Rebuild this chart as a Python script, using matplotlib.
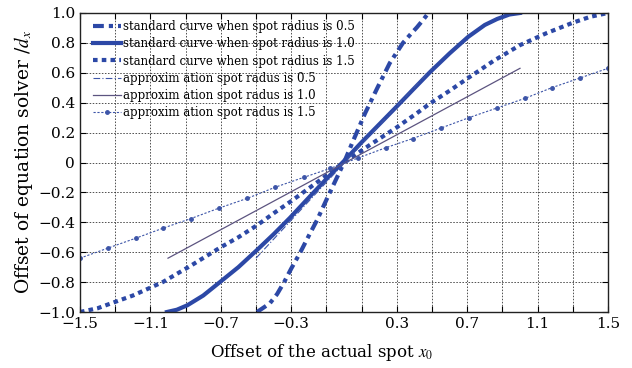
import matplotlib
matplotlib.use("Agg")
import matplotlib.pyplot as plt

# ---- data ----
std_05_x = [-0.494, -0.45, -0.42, -0.38, -0.34, -0.30, -0.25, -0.20, -0.153, -0.10, -0.04, 0.0,
            0.05, 0.12, 0.19, 0.26, 0.335, 0.38, 0.415, 0.45, 0.48]
std_05_y = [-1.0, -0.965, -0.94, -0.88, -0.80, -0.71, -0.605, -0.49, -0.385, -0.25, -0.10, 0.0,
            0.14, 0.33, 0.50, 0.665, 0.80, 0.86, 0.905, 0.955, 1.0]

std_10_x = [-1.006, -0.95, -0.89, -0.8, -0.705, -0.6, -0.494, -0.4, -0.307, -0.2, -0.1, 0.0,
            0.1, 0.2, 0.3, 0.39, 0.489, 0.6, 0.705, 0.8, 0.87, 0.94, 1.0]
std_10_y = [-1.0, -0.985, -0.955, -0.89, -0.80, -0.70, -0.585, -0.48, -0.37, -0.235, -0.11, 0.01,
            0.135, 0.255, 0.375, 0.485, 0.605, 0.73, 0.84, 0.92, 0.96, 0.99, 1.0]

std_15_x = [-1.5, -1.4, -1.33, -1.2, -1.03, -0.87, -0.705, -0.6, -0.494, -0.4, -0.29, -0.15, 0.0,
            0.15, 0.30, 0.42, 0.489, 0.6, 0.705, 0.85, 1.0, 1.15, 1.3, 1.4, 1.5]
std_15_y = [-1.0, -0.975, -0.945, -0.89, -0.80, -0.69, -0.57, -0.50, -0.42, -0.34, -0.25, -0.13, 0.0,
            0.12, 0.235, 0.335, 0.395, 0.48, 0.565, 0.68, 0.785, 0.865, 0.935, 0.975, 1.0]

apx_05_x = [-0.5, 0.5]
apx_05_y = [-0.64, 0.63]
apx_10_x = [-1.0, 1.0]
apx_10_y = [-0.64, 0.63]
apx_15_x = [-1.5, -1.34, -1.18, -1.03, -0.87, -0.71, -0.55, -0.39, -0.23, -0.08,
            0.08, 0.24, 0.39, 0.55, 0.71, 0.87, 1.03, 1.18, 1.34, 1.5]
apx_15_y = [-0.64, -0.572, -0.505, -0.44, -0.375, -0.305, -0.24, -0.165, -0.10, -0.04,
            0.03, 0.10, 0.16, 0.23, 0.30, 0.365, 0.43, 0.50, 0.565, 0.63]

labels = ["standard curve when spot radius is 0.5",
          "standard curve when spot radius is 1.0",
          "standard curve when spot radius is 1.5",
          "approxim ation spot radus is 0.5",
          "approxim ation spot radus is 1.0",
          "approxim ation spot radus is 1.5"]

x_ticks = [-1.5, -1.3, -1.1, -0.9, -0.7, -0.5, -0.3, -0.1, 0.1, 0.3, 0.5, 0.7, 0.9, 1.1, 1.3, 1.5]
x_ticklabels = ["\u22121.5", "", "\u22121.1", "", "\u22120.7", "", "\u22120.3", "", "", "0.3", "",
                "0.7", "", "1.1", "", "1.5"]
y_ticks = [-1.0, -0.8, -0.6, -0.4, -0.2, 0.0, 0.2, 0.4, 0.6, 0.8, 1.0]
y_ticklabels = ["\u22121.0", "\u22120.8", "\u22120.6", "\u22120.4", "\u22120.2", "0",
                "0.2", "0.4", "0.6", "0.8", "1.0"]

plt.rcParams['font.family'] = ['DejaVu Serif']
plt.rcParams['mathtext.fontset'] = 'stix'

blue = "#2c48a6"
thin_blue = "#3d55a8"
purple = "#5c5480"

fig = plt.figure(figsize=(6.32, 3.68), dpi=100)
ax = fig.add_axes([80/632, 56/368, 528/632, 299/368])

ax.plot(std_05_x, std_05_y, color=blue, lw=3.0, ls=(0, (2.6, 1.2, 1, 1.2)), label=labels[0])
ax.plot(std_10_x, std_10_y, color=blue, lw=3.0, ls='-', label=labels[1])
ax.plot(std_15_x, std_15_y, color=blue, lw=3.0, ls=(0, (1.1, 1)), label=labels[2])
ax.plot(apx_05_x, apx_05_y, color=thin_blue, lw=0.8, ls=(0, (6, 2, 1, 2)), label=labels[3])
ax.plot(apx_10_x, apx_10_y, color=purple, lw=0.9, ls='-', label=labels[4])
ax.plot(apx_15_x, apx_15_y, color=thin_blue, lw=0.8, ls=(0, (2, 1.5)), marker='o', ms=2.5,
        label=labels[5])

ax.set_xlim(-1.5, 1.5)
ax.set_ylim(-1.0, 1.0)
ax.set_xticks(x_ticks)
ax.set_xticklabels(x_ticklabels)
ax.set_yticks(y_ticks)
ax.set_yticklabels(y_ticklabels)
ax.tick_params(direction='in', top=True, right=True, length=4, width=0.8, labelsize=11,
               colors='black')
ax.grid(True, color='#222222', ls=(0, (2, 2)), lw=0.55)
for s in ax.spines.values():
    s.set_linewidth(1.0)
    s.set_color('#222222')

ax.set_xlabel("Offset of the actual spot $x_0$", fontsize=12, labelpad=1)
ax.xaxis.set_label_coords(0.458, -0.1)
ax.set_ylabel("Offset of equation solver /$d_x$", fontsize=13.5, labelpad=2)

leg = ax.legend(loc='upper left', bbox_to_anchor=(0.012, 1.0), frameon=False, fontsize=8.5,
                handlelength=2.3, handletextpad=0.2, labelspacing=0.36, borderaxespad=0.2)

fig.savefig("out.png", dpi=100)
